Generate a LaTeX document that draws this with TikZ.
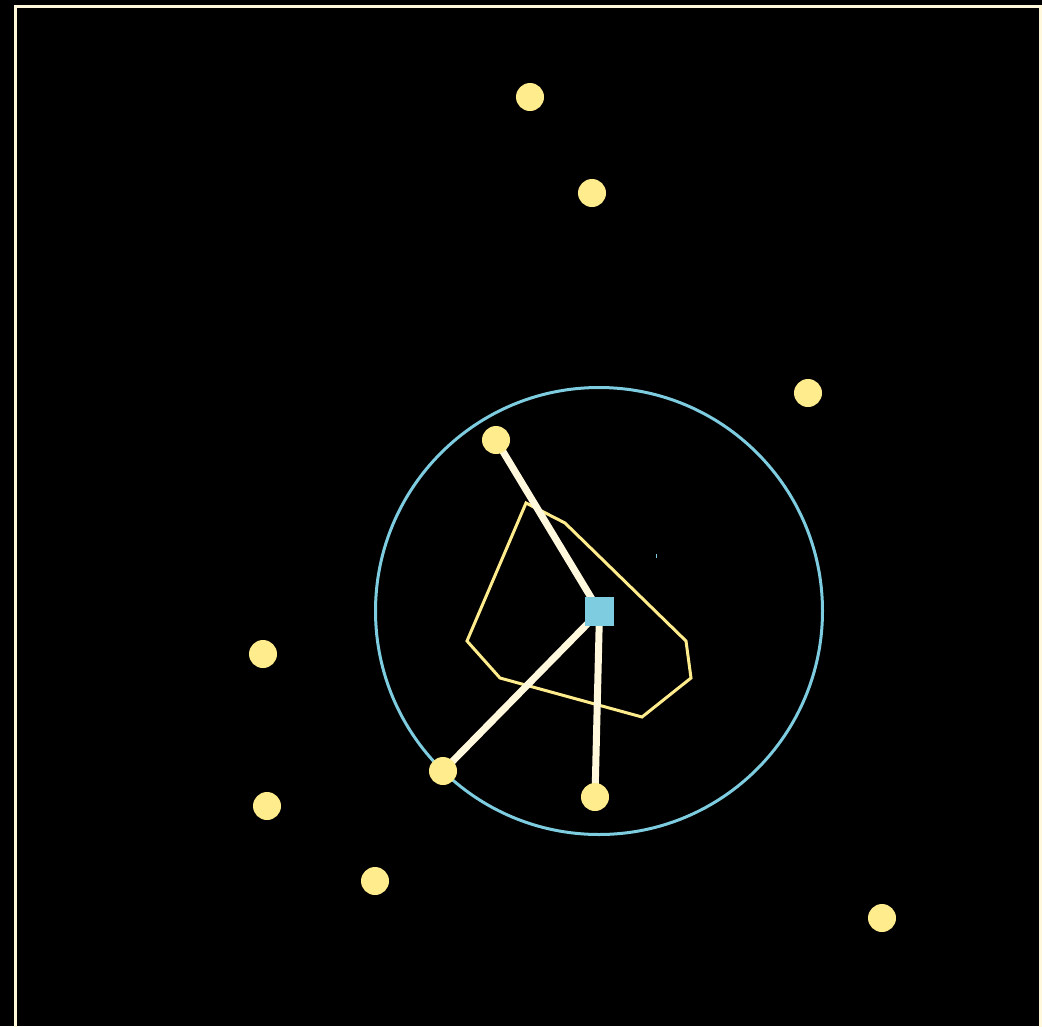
\documentclass[tikz,border=0pt]{standalone}
\definecolor{dotyel}{RGB}{255,236,140}
\definecolor{cream}{RGB}{255,248,220}
\definecolor{skyb}{RGB}{126,204,224}
\pgfdeclarelayer{bg}
\pgfsetlayers{bg,main}
\tikzset{
  dot/.style={circle,fill=dotyel,minimum size=28pt,inner sep=0pt},
  hub/.style={rectangle,fill=skyb,minimum size=29pt,inner sep=0pt},
  link/.style={draw=cream,line width=7pt},
  hull/.style={draw=dotyel,line width=3pt,line join=miter},
  ring/.style={draw=skyb,line width=3pt},
}
\begin{document}
\begin{tikzpicture}[x=1pt,y=-1pt]
\useasboundingbox (0,0) rectangle (1042,1026);
\node[dot] (d1) at (530,97) {};
\node[dot] (d2) at (592,193) {};
\node[dot] (d3) at (808,393) {};
\node[dot] (d4) at (496,440) {};
\node[dot] (d5) at (263,654) {};
\node[dot] (d6) at (443,771) {};
\node[dot] (d7) at (595,797) {};
\node[dot] (d8) at (267,806) {};
\node[dot] (d9) at (375,881) {};
\node[dot] (d10) at (882,918) {};
\node[hub] (hub) at (599.5,611.5) {};
\begin{pgfonlayer}{bg}
\fill[black] (0,0) rectangle (1042,1026);
\begin{scope}
\clip (0,0) rectangle (1042,1026);
\draw[cream,line width=3pt] (15.5,1040) -- (15.5,6.5) -- (1040,6.5) -- (1040,1040);
\end{scope}
\draw[ring] (599,611) circle (223.5);
\draw[hull] (526,503) -- (565,523) -- (686,641) -- (691,678) -- (642,717) -- (500,678) -- (467,641) -- cycle;
\draw[skyb,line width=1pt] (656,554) -- (656,558);
\draw[link] (hub.center) -- (d4.center);
\draw[link] (hub.center) -- (d6.center);
\draw[link] (hub.center) -- (d7.center);
\end{pgfonlayer}
\end{tikzpicture}
\end{document}
